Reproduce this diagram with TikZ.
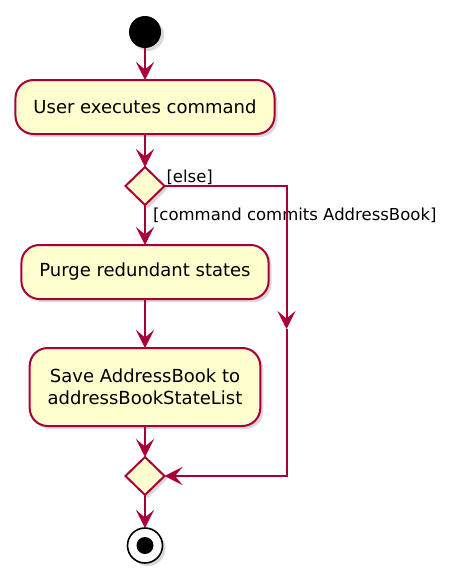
\documentclass[tikz,border=0pt]{standalone}
\usepackage{fontspec}
\setmainfont{DejaVu Sans}
\usepackage{tikz}
\usetikzlibrary{arrows.meta, shapes.geometric, shadows}
\usetikzlibrary{positioning}

\definecolor{umlred}{HTML}{A80036}
\definecolor{umlfill}{HTML}{FEFECE}

\begin{document}
\begin{tikzpicture}[x=1pt, y=1pt,
    every node/.style={outer sep=0pt},
    activity/.style={rectangle, rounded corners=18pt, draw=umlred, fill=umlfill, line width=2pt,
        inner xsep=18pt, inner ysep=0pt, minimum height=54pt, align=center,
        font=\fontsize{18}{22}\selectfont,
        drop shadow={shadow xshift=3pt, shadow yshift=-3pt, opacity=.3}},
    branch/.style={diamond, aspect=1, draw=umlred, fill=umlfill, line width=2pt, inner sep=0pt,
        minimum width=39pt, minimum height=38pt,
        drop shadow={shadow xshift=3pt, shadow yshift=-3pt, opacity=.3}},
    guard/.style={inner sep=0pt, font=\fontsize{16.5}{20}\selectfont},
    flow/.style={draw=umlred, line width=2pt, -{Stealth[length=18pt, width=18pt, inset=7.5pt]}}
    ]
    \useasboundingbox (0,0) rectangle (464,-578);

    % start and the actions
    \node[circle, fill=black, minimum size=32pt, inner sep=0pt,
        drop shadow={shadow xshift=3pt, shadow yshift=-3pt, opacity=.3}] (start) at (145,-32) {};
    \node[activity, below=32pt of start] (execute) {User executes command};
    \node[branch, below=33pt of execute] (commits) {};
    \node[activity, below=40pt of commits] (purge) {Purge redundant states};
    \node[activity, below=49pt of purge, minimum height=78pt] (save) {Save AddressBook to\\addressBookStateList};
    \node[branch, below=31pt of save] (merge) {};
    \node[circle, draw=black, line width=1.6pt, fill=white, minimum size=35pt, inner sep=0pt,
        drop shadow={shadow xshift=3pt, shadow yshift=-3pt, opacity=.3},
        below=33pt of merge,
        path picture={\fill[black] (path picture bounding box.center) circle (8.5pt);}] (stop) {};

    % guards
    \node[guard, anchor=base west] (elselbl) at ([shift={(2pt,4pt)}]commits.east) {[else]};
    \node[guard, anchor=base west] (commitlbl) at ([shift={(8pt,-15pt)}]commits.south) {[command commits AddressBook]};

    % else branch
    \coordinate[right=122pt of commits.east] (elsetop);
    \coordinate[below=143pt of elsetop] (elsemid);
    \coordinate (elsebot) at (elsetop |- merge);

    \path[every edge/.style={flow}]
    (start) edge (execute)
    (execute) edge (commits)
    (commits) edge (purge)
    (purge) edge (save)
    (save) edge (merge)
    (merge) edge (stop);
    \draw[flow] (commits.east) -- (elsetop) -- (elsemid);
    \draw[flow] (elsemid) -- (elsebot) -- (merge.east);
\end{tikzpicture}
\end{document}
